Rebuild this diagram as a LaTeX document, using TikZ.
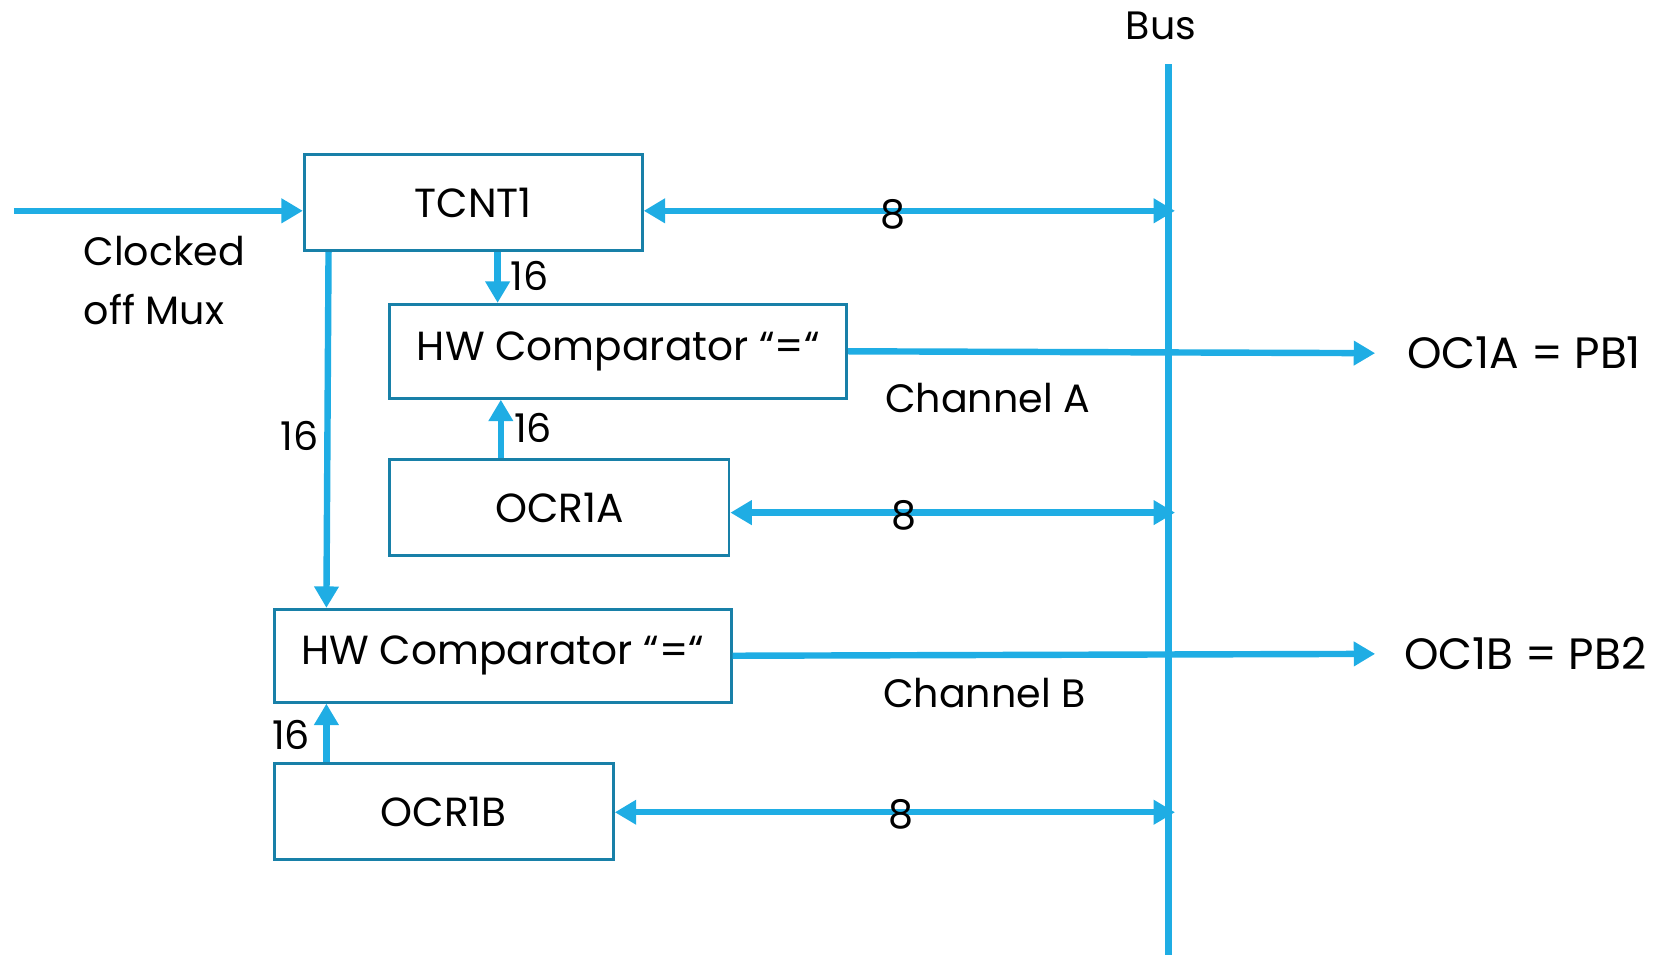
\documentclass[tikz,border=0pt]{standalone}
\usepackage{fontspec}
\setmainfont{Poppins}
\usetikzlibrary{arrows.meta}
\definecolor{busblue}{RGB}{31,173,228}
\definecolor{boxblue}{RGB}{24,128,168}

\begin{document}
\begin{tikzpicture}[x=1pt,y=-1pt,
  reg/.style={draw=boxblue,line width=2.5pt,anchor=north west,inner sep=0pt,font=\fontsize{38}{44}\selectfont},
  lbl/.style={inner sep=0pt,text=black,font=\fontsize{37}{55}\selectfont},
  pin/.style={lbl,anchor=west,font=\fontsize{41}{50}\selectfont},
  wire/.style={busblue,line width=6pt,-{Triangle[length=20pt,width=22pt]}},
  bidir/.style={busblue,line width=6pt,{Triangle[length=20pt,width=22pt]}-{Triangle[length=20pt,width=22pt]}}]
  \useasboundingbox (0,0) rectangle (1568,892);

  % registers and comparators
  \node[reg,minimum width=316pt,minimum height=90pt] (tcnt) at (283,143) {TCNT1};
  \node[reg,minimum width=427pt,minimum height=88pt] (cmpA) at (363,283) {HW Comparator “=“};
  \node[reg,minimum width=317pt,minimum height=90pt] (ocrA) at (363,428) {OCR1A};
  \node[reg,minimum width=427pt,minimum height=87pt] (cmpB) at (255,568) {HW Comparator “=“};
  \node[reg,minimum width=317pt,minimum height=90pt] (ocrB) at (255,712) {OCR1B};

  % bus
  \node[lbl] (busLbl) at (1085,24) {Bus};
  \coordinate (busTop) at (1092,60);
  \coordinate (busBot) at (1092,892);
  \draw[busblue,line width=6pt] (busTop) -- (busBot);
  \coordinate (busT) at (1098,197);
  \coordinate (busA) at (1098,479);
  \coordinate (busB) at (1098,759);

  % outputs
  \node[pin] (pinA) at (1315,330) {OC1A = PB1};
  \node[pin] (pinB) at (1312,611) {OC1B = PB2};
  \node[lbl] (chA) at (923,372) {Channel A};
  \node[lbl] (chB) at (920,648) {Channel B};

  % clock input
  \coordinate (clkIn) at (13,197);
  \node[lbl,anchor=west,align=left] (clkLbl) at (78,262) {Clocked\\off Mux};
  \draw[wire] (clkIn) -- (clkIn -| tcnt.west);

  % 8 bit links to the bus
  \draw[bidir] (tcnt.east |- busT) -- (busT) node[lbl,pos=0.47,yshift=-3pt] (w8T) {8};
  \draw[bidir] (ocrA.east |- busA) -- (busA) node[lbl,pos=0.39,yshift=-3pt] (w8A) {8};
  \draw[bidir] (ocrB.east |- busB) -- (busB) node[lbl,pos=0.51,yshift=-2pt] (w8B) {8};

  % 16 bit links
  \draw[wire] ([xshift=182pt]tcnt.south west) -- ([xshift=102pt]cmpA.north west);
  \draw[wire] ([xshift=105pt]ocrA.north west) -- ([xshift=105pt]cmpA.south west);
  \draw[wire] ([xshift=24pt]tcnt.south west) -- ([xshift=50pt]cmpB.north west);
  \draw[wire] ([xshift=50pt]ocrB.north west) -- ([xshift=50pt]cmpB.south west);
  \node[lbl] (w16a) at (495,258) {16};
  \node[lbl] (w16b) at (498,400) {16};
  \node[lbl] (w16c) at (280,407) {16};
  \node[lbl] (w16d) at (272,687) {16};

  % compare outputs
  \draw[wire] (cmpA.east) -- ([xshift=-30pt]pinA.west);
  \draw[wire] (cmpB.east) -- ([xshift=-27pt]pinB.west);
\end{tikzpicture}
\end{document}
